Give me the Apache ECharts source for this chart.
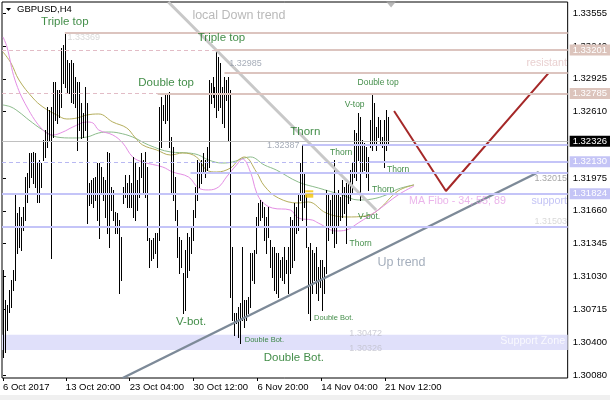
<!DOCTYPE html>
<html><head><meta charset="utf-8">
<script src="https://cdn.jsdelivr.net/npm/echarts@6/dist/echarts.min.js"></script>
<style>html,body{margin:0;padding:0;background:#fff}#c{width:610px;height:400px}</style>
</head><body><div id="c"></div>
<script>
// ---------- data ----------
const xTickBars = [0, 31.5, 63.5, 95.5, 127.5, 159.5, 191.5];
const xTickLabels = ['6 Oct 2017', '13 Oct 20:00', '23 Oct 04:00', '30 Oct 12:00', '6 Nov 20:00', '14 Nov 04:00', '21 Nov 12:00'];
const yTicks = [1.30080, 1.30400, 1.30715, 1.31030, 1.31345, 1.31660, 1.31975, 1.32610, 1.32925, 1.33240, 1.33555];

const highs = [1.31093,1.30806,1.30758,1.30902,1.30997,1.31093,1.31831,1.31639,1.31697,1.31601,
1.31697,1.31984,1.32022,1.32214,1.32214,1.32224,1.32214,1.32118,1.32147,1.32118,
1.32339,1.32434,1.32655,1.32626,1.32655,1.32894,1.32894,1.32818,1.32818,1.33220,
1.33249,1.33373,1.33105,1.33076,1.33105,1.33076,1.32942,1.32894,1.32894,1.32693,
1.32597,1.32847,1.32693,1.31927,1.31955,1.31975,1.31984,1.32118,1.32118,1.32080,
1.31984,1.31955,1.32224,1.32214,1.31888,1.31860,1.31649,1.31639,1.31572,1.31409,
1.31888,1.32003,1.31927,1.32003,1.31927,1.32176,1.32118,1.31955,1.32080,1.32214,
1.32147,1.32224,1.32080,1.31400,1.31381,1.31400,1.31448,1.31448,1.32655,1.32751,
1.32674,1.32770,1.32789,1.32799,1.32367,1.32272,1.31984,1.31668,1.31409,1.31381,
1.31064,1.31285,1.31448,1.31409,1.31505,1.31668,1.31888,1.32147,1.32118,1.32147,
1.32214,1.32147,1.32272,1.32914,1.32885,1.32942,1.32847,1.33211,1.33134,1.33076,
1.32847,1.32942,1.32914,1.32942,1.32818,1.31314,1.30681,1.30681,1.30739,1.30777,
1.31314,1.30806,1.30806,1.30834,1.31256,1.31256,1.31285,1.31601,1.31735,1.31764,
1.31745,1.31697,1.31601,1.31697,1.31381,1.31314,1.31314,1.31256,1.31256,1.31189,
1.31218,1.31314,1.31189,1.31314,1.31601,1.31572,1.31735,1.31697,1.31831,1.32118,
1.32291,1.32022,1.31831,1.31314,1.31352,1.31285,1.31256,1.31314,1.31122,1.31189,
1.31189,1.31122,1.31860,1.31831,1.31764,1.31831,1.32147,1.31831,1.31860,1.31793,
1.31955,1.31888,1.31927,1.31927,1.32051,1.32118,1.32434,1.32406,1.32597,1.32559,
1.32339,1.32310,1.32272,1.32176,1.32530,1.32789,1.32693,1.32463,1.32559,1.32530,
1.32367,1.32530,1.32626,1.32559];
const lows = [1.30260,1.30308,1.30518,1.30691,1.30739,1.30902,1.30997,1.31256,1.31314,1.31285,
1.31476,1.31572,1.31745,1.31888,1.31984,1.31927,1.31888,1.31745,1.31745,1.31888,
1.32147,1.32176,1.32272,1.32339,1.31208,1.32367,1.32530,1.32502,1.32559,1.32655,
1.32885,1.32847,1.32799,1.32789,1.32703,1.32693,1.32655,1.32243,1.32434,1.32358,
1.32367,1.32434,1.31543,1.31716,1.31735,1.31697,1.31764,1.31572,1.31400,1.31831,
1.31764,1.31601,1.31448,1.31314,1.31668,1.31572,1.31448,1.31448,1.30873,1.30997,
1.31735,1.31793,1.31697,1.31697,1.31697,1.31601,1.31572,1.31668,1.31793,1.31984,
1.31831,1.31793,1.31381,1.31122,1.31189,1.31208,1.31256,1.31122,1.31381,1.32272,
1.32530,1.32502,1.32530,1.32272,1.31831,1.31764,1.31572,1.31218,1.31064,1.31122,
1.30681,1.30710,1.31026,1.31093,1.31256,1.31381,1.31601,1.31764,1.31888,1.31927,
1.32022,1.31984,1.32051,1.32080,1.32693,1.32751,1.32655,1.32559,1.32626,1.32655,
1.32502,1.32463,1.32722,1.32339,1.30834,1.30614,1.30470,1.30585,1.30451,1.30394,
1.30614,1.30547,1.30614,1.30681,1.30739,1.30997,1.30969,1.31256,1.31505,1.31572,
1.31601,1.31381,1.31256,1.31409,1.31122,1.31026,1.30902,1.30873,1.30834,1.31026,
1.30997,1.30969,1.31064,1.30873,1.31064,1.31122,1.31189,1.31448,1.31476,1.31764,
1.31572,1.31697,1.31314,1.30681,1.30614,1.30873,1.30997,1.30873,1.30806,1.30930,
1.30710,1.30873,1.31064,1.31381,1.31505,1.31448,1.31314,1.31352,1.31505,1.31572,
1.31601,1.31639,1.31352,1.31735,1.31764,1.31831,1.31984,1.31955,1.32147,1.31764,
1.32022,1.32051,1.31984,1.31860,1.32272,1.32243,1.32310,1.32243,1.32367,1.32310,
1.32272,1.32080,1.32243,1.32310];

// moving averages (bar index, price)
const ma34 = [[0,1.33326],[2,1.33230],[6,1.32914],[12,1.32655],[20,1.32434],[25,1.32387],[30,1.32415],[35,1.32463],[42,1.32511],[45,1.32502],[48,1.32434],[55,1.32387],[60,1.32310],[65,1.32176],[70,1.32128],[80,1.32080],[85,1.32032],[93,1.31984],[98,1.31879],[103,1.31860],[108,1.31888],[112,1.31984],[117,1.32099],[120,1.32157],[124,1.32032],[127,1.31840],[130,1.31745],[135,1.31687],[144,1.31668],[148,1.31591],[155,1.31572],[158,1.31543],[167,1.31467],[172,1.31476],[178,1.31543],[188,1.31668],[198,1.31812],[206,1.31898]];
const ma55 = [[0,1.33182],[4,1.33076],[8,1.32914],[15,1.32741],[20,1.32655],[27,1.32578],[32,1.32540],[37,1.32549],[42,1.32578],[48,1.32588],[55,1.32511],[62,1.32454],[66,1.32367],[70,1.32291],[77,1.32243],[84,1.32195],[90,1.32214],[97,1.32176],[102,1.32051],[107,1.32032],[114,1.32070],[118,1.32147],[121,1.32176],[127,1.32032],[131,1.31898],[138,1.31783],[148,1.31735],[153,1.31745],[162,1.31639],[172,1.31601],[182,1.31611],[188,1.31668],[198,1.31850],[206,1.31908]];
const ma89 = [[0,1.32674],[4,1.32655],[8,1.32607],[13,1.32530],[20,1.32434],[27,1.32367],[35,1.32358],[42,1.32367],[48,1.32406],[53,1.32415],[58,1.32406],[65,1.32367],[73,1.32291],[84,1.32224],[93,1.32214],[98,1.32195],[103,1.32147],[110,1.32118],[115,1.32128],[121,1.32166],[124,1.32176],[131,1.32099],[137,1.32051],[148,1.31936],[158,1.31879],[170,1.31812],[178,1.31764],[185,1.31773],[192,1.31812],[198,1.31869],[206,1.31908]];

// horizontal levels
const currentPrice = 1.32326;
const resistLevels = [1.33369, 1.33201, 1.32985, 1.32785];
const resistFrom   = [31, 106, 111, 77.5];
const resistDashed = [1.33201, 1.32785];
const resistBoxes  = [1.33201, 1.32785];
const supportLevels = [1.32291, 1.32130, 1.32025, 1.31824, 1.31503];
const supportFrom   = [150, 183.5, 94, -0.5, -0.5];
const supportDashed = [1.32130];
const supportBoxes  = [1.32130, 1.31824];
const supportZone = [1.30326, 1.30472];

// drawn lines (bar index, price)
const downTrend = [[82.85, 1.33661], [187, 1.31668]];
const upTrend = [[60, 1.30058], [268.5, 1.32032]];
const forecast = [[196, 1.32617], [222, 1.31850], [273.5, 1.32981]];

// annotations (text, bar index, price)
const bigNotes = [['Triple top',31,1.33469],['Triple top',109.5,1.33321],['Double top',81.75,1.32885],['Thorn',151.5,1.32420],['V-bot.',94.25,1.30600],['Double Bot.',145.75,1.30255]];
const smallNotes = [['Double top',188,1.32890],['V-top',176.25,1.32679],['Thorn',169.5,1.32219],['Thorn',190.5,1.31864],['Thorn',179.25,1.31347],['Thorn',198,1.32051],['V-bot.',183.5,1.31606]];
const tinyNotes = [['Double Bot.',131,1.30423],['Double Bot.',165.75,1.30638]];
const downTrendNote = [['local Down trend',118.25,1.33531]];
const upTrendNote = [['Up trend',199.75,1.31160]];
const maNote = [['MA Fibo - 34; 55; 89',227.75,1.31754]];
const supportNote = [['support',273.75,1.31754]];
const resistNote = [['resistant',272.5,1.33076]];
const zoneNote = [['Support Zone',265.5,1.30413]];
const levelTextsLight = [['1.33369',40.5,1.33316],['1.31503',274.5,1.31558]];
const levelTextsBlue = [['1.32985',121.5,1.33067],['1.32387',140.5,1.32281]];
const levelTextsGray = [['1.32015',274.5,1.31965]];
const zoneTexts = [['1.30472',181.75,1.30485],['1.30326',181.75,1.30336]];
const arrowMarkTop = [[153.5, 1.31847]];
const arrowMarkBody = [[153.5, 1.31805]];
const shiftMark = [[194.5, 1.33637]];

// ---------- chart ----------
const FONT = 'Liberation Sans';
const X_MIN = -0.5, X_MAX = 283;
const chart = echarts.init(document.getElementById('c'));

function notes(items, color, size, z) {
  return {
    type: 'scatter', silent: true, z: z || 8, symbolSize: 1, itemStyle: {color: 'rgba(0,0,0,0)'},
    data: items.map(d => ({name: d[0], value: [d[1], d[2]]})),
    label: {show: true, position: 'inside', formatter: '{b}', color: color, fontSize: size, fontFamily: FONT}
  };
}
function hl(price, from, color, width, type, box) {
  const a = {coord: [from, price], lineStyle: {color: color, width: width, type: type}, label: {show: false}};
  if (box) {
    a.label = {show: true, position: 'end', distance: 2, formatter: price.toFixed(5), color: '#fff',
      backgroundColor: box, padding: [1, 3, 0, 3], fontSize: 9.5, fontFamily: FONT};
  }
  return [a, {coord: [X_MAX, price]}];
}

const levelLines = [];
resistDashed.forEach(p => levelLines.push(hl(p, X_MIN, '#e2bcc6', 1, [4, 3], null)));
supportDashed.forEach(p => levelLines.push(hl(p, X_MIN, '#b8b8f2', 1, [4, 3], null)));
resistLevels.forEach((p, i) => levelLines.push(hl(p, resistFrom[i], '#dcc4bf', 2, 'solid', resistBoxes.includes(p) ? '#dcc4bc' : null)));
supportLevels.forEach((p, i) => levelLines.push(hl(p, supportFrom[i], '#c4c4f8', 2, 'solid', supportBoxes.includes(p) ? '#c4c4f6' : null)));
levelLines.push(hl(currentPrice, X_MIN, '#c0c0c0', 1, 'solid', '#000'));

const option = {
  animation: false,
  backgroundColor: '#fff',
  grid: {left: 2, right: 41, top: 2, bottom: 22, show: true, borderColor: '#000', borderWidth: 1, backgroundColor: 'rgba(0,0,0,0)'},
  xAxis: {
    type: 'value', min: X_MIN, max: X_MAX, position: 'bottom',
    axisLine: {show: false}, splitLine: {show: false},
    axisTick: {show: true, customValues: xTickBars, length: 3, lineStyle: {color: '#000'}},
    axisLabel: {customValues: xTickBars, align: 'left', margin: 4, color: '#000', fontSize: 9.5, fontFamily: FONT,
      formatter: v => xTickLabels[xTickBars.indexOf(v)] || ''}
  },
  yAxis: {
    type: 'value', min: 1.30058, max: 1.33661, position: 'right', scale: true,
    axisLine: {show: false}, splitLine: {show: false},
    axisTick: {show: true, customValues: yTicks, length: 3, lineStyle: {color: '#000'}},
    axisLabel: {customValues: yTicks, margin: 5, color: '#000', fontSize: 9.5, fontFamily: FONT, formatter: v => v.toFixed(5)}
  },
  graphic: [
    {type: 'rect', left: 0, top: 395, shape: {width: 610, height: 5}, style: {fill: '#f0f0f0'}, silent: true},
    {type: 'polygon', shape: {points: [[6, 8], [11, 8], [8.5, 11]]}, style: {fill: '#000'}, silent: true},
    {type: 'text', left: 17, top: 4, style: {text: 'GBPUSD,H4', fill: '#000', font: '9.5px "Liberation Sans"'}, silent: true}
  ],
  series: [
    {type: 'line', data: [], z: 1, silent: true,
      markArea: {silent: true, itemStyle: {color: '#e0e0fa'}, data: [[{coord: [X_MIN, supportZone[1]]}, {coord: [X_MAX, supportZone[0]]}]]},
      markLine: {silent: true, symbol: ['none', 'none'], animation: false, data: levelLines}},
    {type: 'line', data: ma89, smooth: 0.4, showSymbol: false, z: 2, silent: true, lineStyle: {color: '#8cbc8c', width: 1}},
    {type: 'line', data: ma55, smooth: 0.4, showSymbol: false, z: 2, silent: true, lineStyle: {color: '#b5ae5c', width: 1}},
    {type: 'line', data: ma34, smooth: 0.4, showSymbol: false, z: 2, silent: true, lineStyle: {color: '#e48ee4', width: 1}},
    {type: 'custom', z: 3, silent: true,
      data: highs.map((h, i) => [i, h, lows[i]]),
      encode: {x: 0, y: [1, 2]},
      renderItem: (params, api) => {
        const a = api.coord([api.value(0), api.value(1)]);
        const b = api.coord([api.value(0), api.value(2)]);
        const x = Math.round(a[0]) + 0.5;
        return {type: 'line', shape: {x1: x, y1: Math.round(a[1]), x2: x, y2: Math.round(b[1]) + 1}, style: {stroke: '#000', lineWidth: 1}};
      }},
    {type: 'line', data: downTrend, z: 4, silent: true, showSymbol: false, lineStyle: {color: '#c8c8c8', width: 3}},
    {type: 'line', data: upTrend, z: 4, silent: true, showSymbol: false, lineStyle: {color: '#7d8a98', width: 2.5}},
    {type: 'line', data: forecast, z: 4, silent: true, showSymbol: false, lineStyle: {color: '#a52828', width: 2}},
    {type: 'scatter', data: arrowMarkTop, z: 5, silent: true, symbol: 'rect', symbolSize: [8, 2], itemStyle: {color: '#f5c400'}},
    {type: 'scatter', data: arrowMarkBody, z: 5, silent: true, symbol: 'rect', symbolSize: [8, 4], itemStyle: {color: '#f5c400'}},
    {type: 'scatter', data: shiftMark, z: 5, silent: true, symbol: 'triangle', symbolRotate: 180, symbolSize: [10, 6], itemStyle: {color: '#a8a8a8'}},
    notes(bigNotes, '#13701a', 11.5),
    notes(smallNotes, '#13701a', 8.5),
    notes(tinyNotes, '#13701a', 7.5),
    notes(downTrendNote, '#a8a8a8', 12.5),
    notes(upTrendNote, '#8d9aab', 12.5),
    notes(maNote, '#e6a3e6', 10.7),
    notes(supportNote, '#b4b4f2', 10.7),
    notes(resistNote, '#e4c4c4', 10.7),
    notes(zoneNote, '#ffffff', 10.7),
    notes(levelTextsLight, '#d0d0d0', 9),
    notes(levelTextsBlue, '#8f97a6', 9),
    notes(levelTextsGray, '#909090', 9),
    notes(zoneTexts, '#c0c0cc', 9)
  ]
};
chart.setOption(option);
</script>
</body></html>
